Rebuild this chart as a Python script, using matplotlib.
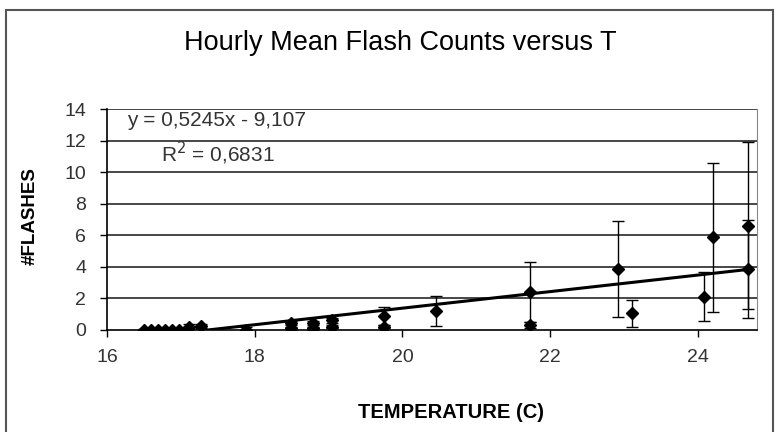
import numpy as np
import matplotlib
matplotlib.use('Agg')
import matplotlib.pyplot as plt
from matplotlib.patches import Rectangle

plt.rcParams['font.family'] = ['Liberation Sans', 'DejaVu Sans']

# hourly mean flash counts vs temperature
temp = [16.50, 16.60, 16.69, 16.79, 16.88, 16.97, 17.11, 17.27, 17.88,
        18.49, 18.49, 18.79, 18.79, 19.04, 19.04, 19.75, 19.75, 20.45,
        21.72, 21.72, 22.92, 23.11, 24.08, 24.20, 24.68, 24.68]
flashes = [0.0, 0.0, 0.0, 0.0, 0.0, 0.02, 0.2, 0.25, 0.0,
           0.42, 0.12, 0.42, 0.12, 0.62, 0.2, 0.88, 0.22, 1.22,
           2.42, 0.3, 3.86, 1.05, 2.1, 5.87, 3.86, 6.6]
err = [0.05, 0.05, 0.05, 0.05, 0.05, 0.05, 0.15, 0.15, 0.2,
       0.12, 0.1, 0.12, 0.1, 0.15, 0.1, 0.57, 0.12, 0.95,
       1.9, 0.2, 3.05, 0.83, 1.55, 4.73, 3.1, 5.3]

slope, intercept = 0.5245, -9.107
r2 = 0.6831

xticks = [16, 18, 20, 22, 24]
yticks = [0, 2, 4, 6, 8, 10, 12, 14]

W, H = 779, 432
fig = plt.figure(figsize=(W / 100, H / 100), dpi=100)
ax = fig.add_axes([107 / W, 1 - 330 / H, (757 - 107) / W, (330 - 109) / H])

# grid lines
for yv in yticks[1:]:
    ax.axhline(yv, color='#151515', lw=1.1, zorder=1)

ax.errorbar(temp, flashes, yerr=err, fmt='D', color='black', ms=6,
            ecolor='black', elinewidth=1.0, capsize=4.5, capthick=1.0, zorder=3)

# linear trendline
xt = np.array([min(temp), max(temp)])
ax.plot(xt, slope * xt + intercept, color='black', lw=2.2, zorder=2)

ax.set_xlim(16, 24.8)
ax.set_ylim(0, 14)
ax.set_xticks(xticks)
ax.set_yticks(yticks)
ax.tick_params(direction='out', length=5, width=1, colors='black',
               labelsize=14, labelcolor='#333333')
ax.tick_params(axis='x', pad=9)
ax.tick_params(axis='y', pad=10)

ax.spines['top'].set_visible(False)
ax.spines['right'].set_color('#888888')
ax.spines['left'].set_color('black')
ax.spines['bottom'].set_color('black')
ax.spines['left'].set_linewidth(1.2)
ax.spines['bottom'].set_linewidth(1.2)

ax.text(217 / W, 1 - 121 / H, f'y = {slope:.4f}x - {abs(intercept):.3f}'.replace('.', ','),
        transform=fig.transFigure, ha='center', va='center', fontsize=15, color='#333333')
ax.text(218 / W, 1 - 153 / H, f'R$^2$ = {r2:.4f}'.replace('.', ','),
        transform=fig.transFigure, ha='center', va='center', fontsize=15, color='#333333')

fig.text(400 / W, 1 - 43 / H, 'Hourly Mean Flash Counts versus T',
         ha='center', va='center', fontsize=19.5, color='black')
fig.text(451 / W, 1 - 413 / H, 'TEMPERATURE (C)', ha='center', va='center',
         fontsize=14.5, fontweight='bold', color='black')
fig.text(30 / W, 1 - 216 / H, '#FLASHES', ha='center', va='center', rotation=90,
         fontsize=13.5, fontweight='bold', color='black')

# chart area border
fig.add_artist(Rectangle((6 / W, -0.01), (773 - 6) / W, 1.01 - 10 / H,
                         transform=fig.transFigure, fill=False,
                         edgecolor='#555555', lw=1.5))

fig.savefig('out.png', dpi=100)
